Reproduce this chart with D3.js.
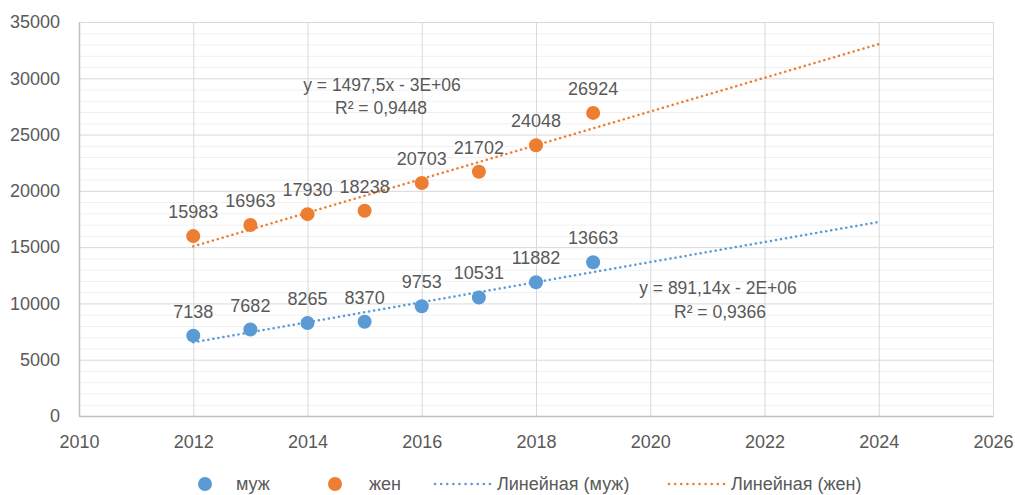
<!DOCTYPE html>
<html>
<head>
<meta charset="utf-8">
<script src="https://cdn.jsdelivr.net/npm/d3@7"></script>
<style>
  body { margin: 0; background: #fff; }
  svg text { font-family: "Liberation Sans", Arial, sans-serif; fill: #595959; }
</style>
</head>
<body>
<script>

var years = [2012, 2013, 2014, 2015, 2016, 2017, 2018, 2019];
var men = [7138, 7682, 8265, 8370, 9753, 10531, 11882, 13663];
var women = [15983, 16963, 17930, 18238, 20703, 21702, 24048, 26924];
var xTicks = [2010, 2012, 2014, 2016, 2018, 2020, 2022, 2024, 2026];
var yTicks = [0, 5000, 10000, 15000, 20000, 25000, 30000, 35000];
var trendEnd = 2024;
var menEq = ["y = 891,14x - 2E+06", "R² = 0,9366"];
var womenEq = ["y = 1497,5x - 3E+06", "R² = 0,9448"];

var blue = "#5b9bd5", orange = "#ed7d31";

var width = 1015, height = 495;
var margin = {top: 22, right: 22, bottom: 79, left: 79};

var x = d3.scaleLinear().domain([2010, 2026]).range([margin.left, width - margin.right]);
var y = d3.scaleLinear().domain([0, 35000]).range([height - margin.bottom, margin.top]);

var svg = d3.select("body").append("svg")
  .attr("width", width)
  .attr("height", height);

// minor grid
svg.append("g")
  .selectAll("line")
  .data(d3.range(0, 35001, 1000).filter(function(v) { return v % 5000 !== 0; }))
  .enter().append("line")
  .attr("x1", x(2010)).attr("x2", x(2026))
  .attr("y1", function(d) { return y(d) + 0.5; })
  .attr("y2", function(d) { return y(d) + 0.5; })
  .attr("stroke", "#f0f0f0");

// major grid
svg.append("g")
  .attr("transform", "translate(" + x(2010) + ",0)")
  .call(d3.axisLeft(y).tickValues(yTicks).tickSize(-(x(2026) - x(2010))).tickFormat(""))
  .call(function(g) { g.select(".domain").remove(); })
  .selectAll("line").attr("stroke", "#d9d9d9");

svg.append("g")
  .attr("transform", "translate(0," + y(35000) + ")")
  .call(d3.axisTop(x).tickValues(xTicks).tickSize(-(y(0) - y(35000))).tickFormat(""))
  .call(function(g) { g.select(".domain").remove(); })
  .selectAll("line").attr("stroke", "#d9d9d9");

// axes
var yAxis = svg.append("g")
  .attr("transform", "translate(" + x(2010) + ",0)")
  .call(d3.axisLeft(y).tickValues(yTicks).tickSize(0).tickPadding(19).tickFormat(d3.format("d")));
yAxis.select(".domain").attr("stroke", "#bfbfbf").attr("stroke-width", 1.5);
yAxis.selectAll("text").attr("font-size", 18).attr("fill", "#595959")
  .style("font-family", "'Liberation Sans', Arial, sans-serif");

var xAxis = svg.append("g")
  .attr("transform", "translate(0," + y(0) + ")")
  .call(d3.axisBottom(x).tickValues(xTicks).tickSize(0).tickPadding(19).tickFormat(d3.format("d")));
xAxis.select(".domain").attr("stroke", "#bfbfbf").attr("stroke-width", 1.5);
xAxis.selectAll("text").attr("font-size", 18).attr("fill", "#595959")
  .style("font-family", "'Liberation Sans', Arial, sans-serif");

// linear trend lines (least squares)
function fit(xs, ys) {
  var mx = d3.mean(xs), my = d3.mean(ys);
  var num = d3.sum(xs, function(v, i) { return (v - mx) * (ys[i] - my); });
  var den = d3.sum(xs, function(v) { return (v - mx) * (v - mx); });
  var b = num / den;
  return function(v) { return my + b * (v - mx); };
}

function trend(vals, color) {
  var f = fit(years, vals);
  svg.append("line")
    .attr("x1", x(years[0])).attr("y1", y(f(years[0])))
    .attr("x2", x(trendEnd)).attr("y2", y(f(trendEnd)))
    .attr("stroke", color)
    .attr("stroke-width", 2.5)
    .attr("stroke-dasharray", "0.1 5")
    .attr("stroke-linecap", "round");
}
trend(men, blue);
trend(women, orange);

function series(vals, color) {
  var g = svg.append("g");
  g.selectAll("circle")
    .data(vals)
    .enter().append("circle")
    .attr("cx", function(d, i) { return x(years[i]); })
    .attr("cy", function(d) { return y(d); })
    .attr("r", 7)
    .attr("fill", color);
  g.selectAll("text")
    .data(vals)
    .enter().append("text")
    .attr("x", function(d, i) { return x(years[i]); })
    .attr("y", function(d) { return y(d) - 18; })
    .attr("text-anchor", "middle")
    .attr("font-size", 18)
    .text(function(d) { return d; });
}
series(men, blue);
series(women, orange);

// equations
svg.append("text").attr("x", 382).attr("y", 91).attr("text-anchor", "middle")
  .attr("font-size", 17.5).text(womenEq[0]);
svg.append("text").attr("x", 381).attr("y", 114).attr("text-anchor", "middle")
  .attr("font-size", 17.5).text(womenEq[1]);
svg.append("text").attr("x", 718).attr("y", 294).attr("text-anchor", "middle")
  .attr("font-size", 17.5).text(menEq[0]);
svg.append("text").attr("x", 720).attr("y", 318).attr("text-anchor", "middle")
  .attr("font-size", 17.5).text(menEq[1]);

// legend
var ly = 484;
var legend = svg.append("g");
legend.append("circle").attr("cx", 205).attr("cy", ly).attr("r", 7).attr("fill", blue);
legend.append("text").attr("x", 236).attr("y", ly + 6).attr("font-size", 18).text("муж");
legend.append("circle").attr("cx", 335).attr("cy", ly).attr("r", 7).attr("fill", orange);
legend.append("text").attr("x", 369).attr("y", ly + 6).attr("font-size", 18).text("жен");
legend.append("line").attr("x1", 435).attr("x2", 490).attr("y1", ly).attr("y2", ly)
  .attr("stroke", blue).attr("stroke-width", 2.5).attr("stroke-dasharray", "0.1 6").attr("stroke-linecap", "round");
legend.append("text").attr("x", 497).attr("y", ly + 6).attr("font-size", 18).text("Линейная (муж)");
legend.append("line").attr("x1", 669).attr("x2", 725).attr("y1", ly).attr("y2", ly)
  .attr("stroke", orange).attr("stroke-width", 2.5).attr("stroke-dasharray", "0.1 6").attr("stroke-linecap", "round");
legend.append("text").attr("x", 731).attr("y", ly + 6).attr("font-size", 18).text("Линейная (жен)");

</script>
</body>
</html>
